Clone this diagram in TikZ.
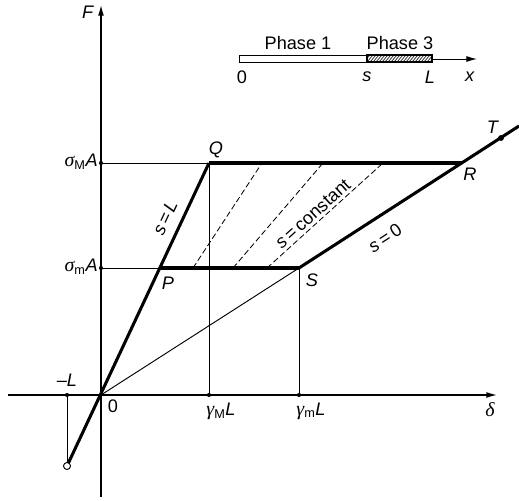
\documentclass[tikz,border=0pt]{standalone}
\usepackage{fontspec}
\setmainfont{Liberation Sans}
\newfontfamily\grk{Liberation Serif}
\newcommand{\gk}[1]{{\grk\itshape\fontsize{17}{18}\selectfont #1}}
\usetikzlibrary{arrows.meta}
\begin{document}
\begin{tikzpicture}[x=0.03cm,y=-0.03cm,
  thinline/.style={line width=0.8pt},
  axis/.style={line width=1.1pt},
  heavy/.style={line width=2.6pt},
  dashline/.style={line width=0.7pt, dash pattern=on 5pt off 2.5pt},
  lbl/.style={font=\fontsize{15.5}{18}\selectfont, inner sep=0pt},
  tickdot/.style={circle, fill, inner sep=0pt, minimum size=3.5pt},
  opendot/.style={circle, draw, fill=white, line width=0.8pt, inner sep=0pt, minimum size=6pt},
  tip/.style={-{Latex[length=9pt,width=5pt]}}]
\useasboundingbox (0,0) rectangle (519,501);
% points
\coordinate (O) at (101,395);
\coordinate (Q) at (209,163);
\coordinate (P) at (161,268);
\coordinate (S) at (299,268);
\coordinate (R) at (462,163);
\coordinate (T) at (501,138);
\coordinate (Tend) at (519,126);
\coordinate (Fb) at (101,497);
\coordinate (Ft) at (101,5);
\coordinate (Dl) at (8,395);
\coordinate (Dr) at (497,395);
\coordinate (aM) at (101,163);
\coordinate (am) at (101,268);
\coordinate (gM) at (209,395);
\coordinate (gm) at (299,395);
\coordinate (mL) at (67,395);
\coordinate (B) at (67,466);
% axes
\draw[axis,tip] (Fb) -- (Ft);
\draw[axis,tip] (Dl) -- (Dr);
% thin lines
\draw[thinline] (aM) -- (Q);
\draw[thinline] (am) -- (P);
\draw[thinline] (Q) -- (gM);
\draw[thinline] (S) -- (gm);
\draw[thinline] (O) -- (S);
\draw[thinline] (mL) -- (B);
% dashed lines
\coordinate (d1a) at (193,268); \coordinate (d1b) at (262,163);
\coordinate (d2a) at (233,268); \coordinate (d2b) at (323,163);
\coordinate (d3a) at (267,268); \coordinate (d3b) at (383,163);
\draw[dashline] (d1a) -- (d1b);
\draw[dashline] (d2a) -- (d2b);
\draw[dashline] (d3a) -- (d3b);
% heavy lines
\draw[heavy] (B) -- (Q);
\draw[heavy] (Q) -- (R);
\draw[heavy] (P) -- (S);
\draw[heavy] (S) -- (Tend);
% dots
\node[tickdot] (daM) at (aM) {};
\node[tickdot] (dam) at (am) {};
\node[tickdot] (dgM) at (gM) {};
\node[tickdot] (dgm) at (gm) {};
\node[tickdot] (dmL) at (mL) {};
\node[tickdot, minimum size=5pt] (dT) at (T) {};
\node[opendot] (dB) at (B) {};
% labels
\node[lbl] (lF) at (88,12) {\textit{F}};
\node[lbl, anchor=east] (lsM) at (98,162) {\gk{σ}\textsubscript{M}\textit{A}};
\node[lbl, anchor=east] (lsm) at (98,267) {\gk{σ}\textsubscript{m}\textit{A}};
\node[lbl] (lQ) at (216,150) {\textit{Q}};
\node[lbl] (lP) at (168,283) {\textit{P}};
\node[lbl] (lS) at (312,280) {\textit{S}};
\node[lbl] (lR) at (470,174) {\textit{R}};
\node[lbl] (lT) at (493,127) {\textit{T}};
\node[lbl, rotate=65] (lsL) at (165,218) {\textit{s}\,=\,\textit{L}};
\node[lbl, rotate=42] (lsc) at (313,214) {\textit{s}\,=\,constant};
\node[lbl, rotate=33] (ls0) at (385,238) {\textit{s}\,=\,0};
\node[lbl] (l0) at (113,406) {0};
\node[lbl] (lmL) at (67,380) {–\textit{L}};
\node[lbl] (lgM) at (221,411) {\gk{γ}\textsubscript{M}\textit{L}};
\node[lbl] (lgm) at (311,411) {\gk{γ}\textsubscript{m}\textit{L}};
\node[lbl] (ld) at (490,410) {\gk{δ}};
% inset
\coordinate (b0) at (239,55);
\coordinate (bs) at (367,62);
\coordinate (bst) at (367,55);
\coordinate (bL) at (432,62);
\coordinate (am0) at (432,59);
\coordinate (am1) at (477,59);
\draw[tip, thinline] (am0) -- (am1);
\begin{scope}
\clip (bst) rectangle (bL);
\foreach \i in {358,361,...,436} \draw[line width=0.5pt] (\i,62) -- (\i+6,55);
\end{scope}
\draw[thinline] (b0) rectangle (bs);
\draw[line width=1pt] (bst) rectangle (bL);
\node[lbl] (lp1) at (298,43) {Phase 1};
\node[lbl] (lp3) at (400,43) {Phase 3};
\node[lbl] (lx0) at (242,77) {0};
\node[lbl] (lxs) at (367,77) {\textit{s}};
\node[lbl] (lxL) at (430,77) {\textit{L}};
\node[lbl] (lxx) at (470,77) {\textit{x}};
\end{tikzpicture}
\end{document}
